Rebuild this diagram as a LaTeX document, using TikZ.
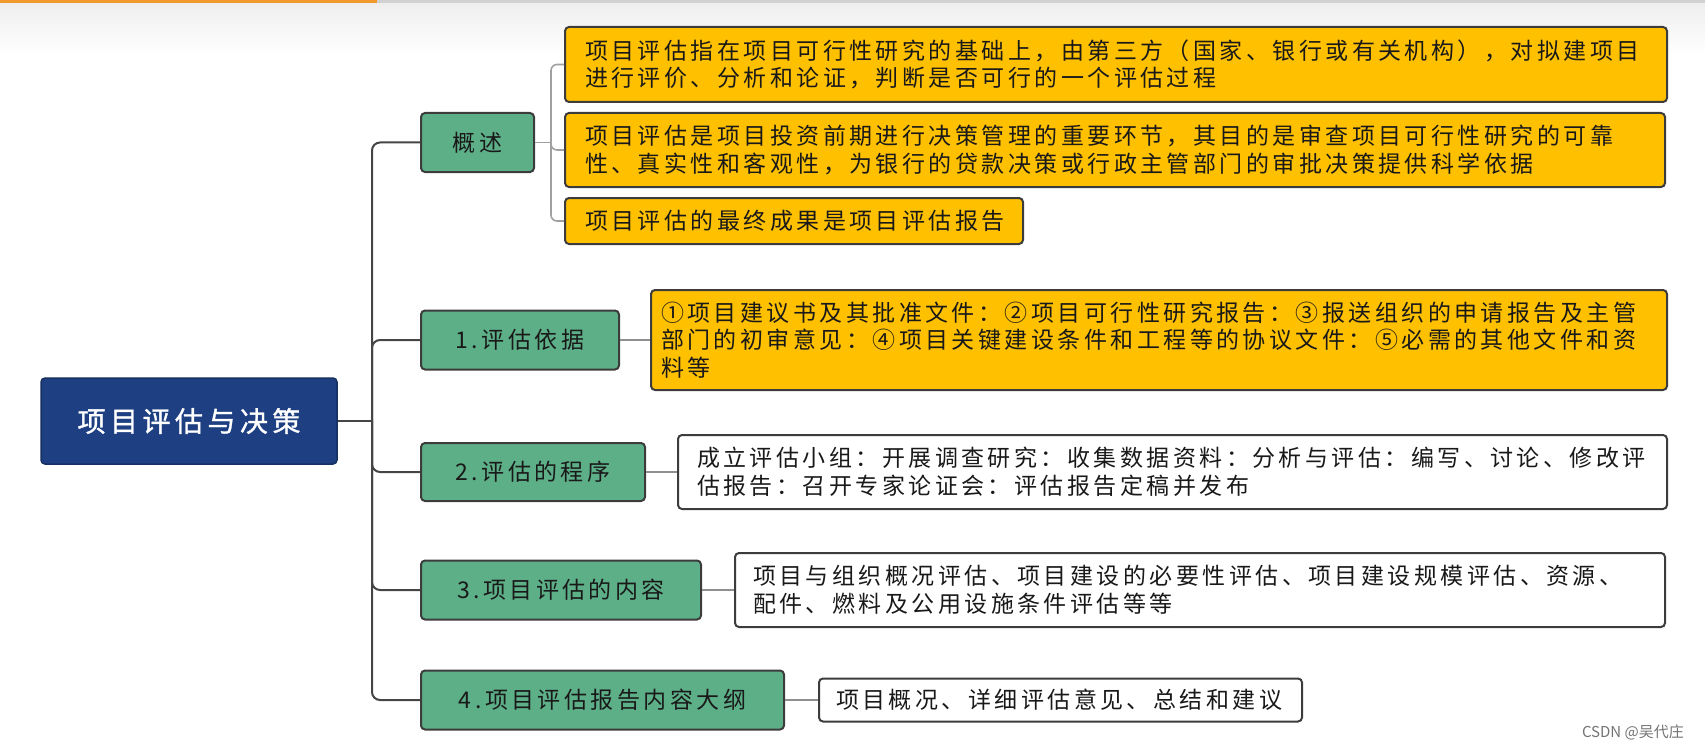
\documentclass[tikz,border=0pt]{standalone}
\usepackage{fontspec}
\newfontfamily\cjk{Noto Sans CJK SC}[LetterSpace=15]
\newfontfamily\cjkroot{Noto Sans CJK SC}[LetterSpace=16, FakeBold=1.2]
\newfontfamily\cjkplain{Noto Sans CJK SC}
\newcommand\mybodyfont{\cjk\fontsize{23pt}{27.5pt}\selectfont}
\newcommand\myrootfont{\cjkroot\fontsize{28pt}{32pt}\selectfont}
\definecolor{rootblue}{HTML}{1E3F82}
\definecolor{rootborder}{HTML}{16305F}
\definecolor{topicgreen}{HTML}{5DAF88}
\definecolor{gold}{HTML}{FFC000}
\definecolor{boxborder}{HTML}{3C3C3C}
\definecolor{trunkgray}{HTML}{454545}
\definecolor{linkgray}{HTML}{8F8F8F}
\definecolor{topbar}{HTML}{F39A2C}
\begin{document}
\begin{tikzpicture}[x=1pt,y=-1pt,
  rootbox/.style={draw=rootborder, fill=rootblue, rounded corners=4pt, line width=1.5pt,
    text=white, font=\myrootfont, inner sep=0pt},
  topic/.style={draw=boxborder, fill=topicgreen, rounded corners=4pt, line width=2pt,
    font=\mybodyfont, text=black!90, inner sep=0pt, anchor=west},
  goldbox/.style={draw=boxborder, fill=gold, rounded corners=4pt, line width=2pt,
    font=\mybodyfont, text=black!90, align=left, inner ysep=0pt, anchor=west},
  whitebox/.style={draw=boxborder, fill=white, rounded corners=4pt, line width=2pt,
    font=\mybodyfont, text=black!90, align=left, inner ysep=0pt, anchor=west},
  trunk/.style={draw=trunkgray, line width=2pt},
  bracket/.style={draw=linkgray!85, line width=1.6pt},
  link/.style={draw=linkgray, line width=2pt}
]
\useasboundingbox (0,0) rectangle (1705,749);
% screenshot top strip
\shade[top color=black!7, bottom color=white] (0,0) rectangle (1705,55);
\fill[topbar] (0,0) rectangle (377,3);
\fill[black!18] (377,0) rectangle (1705,3);

% root
\node[rootbox, minimum width=296pt, minimum height=86pt] (root) at (189,421) {项目评估与决策};

% topics
\node[topic, minimum width=113pt, minimum height=59pt] (t0) at (420,142.5) {概述};
\node[topic, minimum width=198pt, minimum height=59pt] (t1) at (420,340) {1.评估依据};
\node[topic, minimum width=224pt, minimum height=58pt] (t2) at (420,472) {2.评估的程序};
\node[topic, minimum width=280pt, minimum height=59pt] (t3) at (420,590) {3.项目评估的内容};
\node[topic, minimum width=363pt, minimum height=59pt] (t4) at (420,700) {4.项目评估报告内容大纲};

% details of 概述
\node[goldbox, inner xsep=20pt, text width=1062pt, minimum height=75pt] (y1) at (564,64.5)
  {项目评估指在项目可行性研究的基础上，由第三方（国家、银行或有关机构），对拟建项目\\进行评价、分析和论证，判断是否可行的一个评估过程};
\node[goldbox, inner xsep=20pt, text width=1060pt, minimum height=74pt] (y2) at (564,150)
  {项目评估是项目投资前期进行决策管理的重要环节，其目的是审查项目可行性研究的可靠\\性、真实性和客观性，为银行的贷款决策或行政主管部门的审批决策提供科学依据};
\node[goldbox, inner xsep=20pt, text width=418pt, minimum height=46pt] (y3) at (564,221)
  {项目评估的最终成果是项目评估报告};

% other details
\node[goldbox, inner xsep=10pt, text width=996pt, minimum height=100pt] (y4) at (650,340)
  {①项目建议书及其批准文件：②项目可行性研究报告：③报送组织的申请报告及主管\\部门的初审意见：④项目关键建设条件和工程等的协议文件：⑤必需的其他文件和资\\料等};
\node[whitebox, inner xsep=19pt, text width=951pt, minimum height=74pt] (w1) at (677,472)
  {成立评估小组：开展调查研究：收集数据资料：分析与评估：编写、讨论、修改评\\估报告：召开专家论证会：评估报告定稿并发布};
\node[whitebox, inner xsep=18pt, text width=894pt, minimum height=74pt] (w2) at (734,590)
  {项目与组织概况评估、项目建设的必要性评估、项目建设规模评估、资源、\\配件、燃料及公用设施条件评估等等};
\node[whitebox, inner xsep=17pt, text width=449pt, minimum height=43pt] (w3) at (818,700)
  {项目概况、详细评估意见、总结和建议};

% trunk connectors
\coordinate (j) at (372,421);
\draw[trunk] (root.east) -- (j);
\foreach \t in {t0,t1,t2,t3,t4}
  \draw[trunk, rounded corners=8pt] (j) |- (\t.west);

% bracket for 概述
\coordinate (b) at (551,142.5);
\draw[bracket] (t0.east) -- (b);
\foreach \d in {y1,y2,y3}
  \draw[bracket, rounded corners=6pt] (b) |- (\d.west);

% topic to detail links
\draw[link] (t1.east) -- (y4.west);
\draw[link] (t2.east) -- (w1.west);
\draw[link] (t3.east) -- (w2.west);
\draw[link] (t4.east) -- (w3.west);

% watermark
\node[anchor=east, text=black!55, font=\cjkplain\fontsize{15pt}{17pt}\selectfont, inner sep=0pt] (wm) at (1684,732) {CSDN @吴代庄};
\end{tikzpicture}
\end{document}
